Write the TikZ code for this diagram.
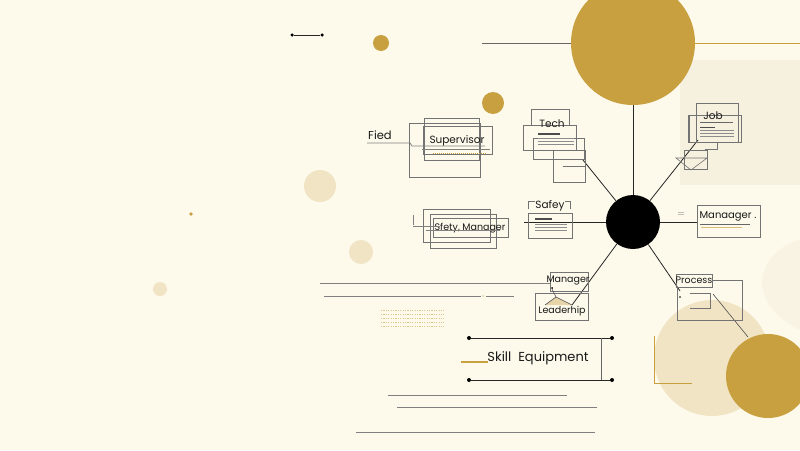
\documentclass[tikz,border=0pt]{standalone}
\usepackage{fontspec}
\setmainfont{Poppins}
\begin{document}
\begin{tikzpicture}[x=1pt,y=-1pt,
  thinbox/.style={draw=black!55,line width=0.6pt},
  lbl/.style={font=\fontsize{10.5}{11}\selectfont,inner sep=0pt,text=black!90},
  gline/.style={draw=black!50,line width=0.8pt},
  spoke/.style={draw=black!85,line width=0.8pt},
  dotline/.style={draw=black!85,line width=0.8pt},
  pt/.style={circle,fill=black,inner sep=0pt,minimum size=4pt}]
\definecolor{bgc}{HTML}{FDFAEB}
\definecolor{goldc}{HTML}{C9A040}
\definecolor{beige}{HTML}{F0E4C4}
\definecolor{pale}{HTML}{F6F0DE}
\useasboundingbox (0,0) rectangle (800,450);
\fill[bgc] (0,0) rectangle (800,450);
% pale panels
\fill[pale] (680,60) rectangle (800,185);
\fill[pale!70!bgc] (800,240) .. controls (760,250) and (740,300) .. (800,330) -- cycle;
\fill[beige] (712,358) circle (58);
\draw[goldc,line width=0.6pt] (654,336) -- (654,383) -- (692,383);
% decorative circles
\fill[goldc] (633,43) circle (62);
\fill[goldc] (381,43) circle (8);
\fill[goldc] (493,103) circle (11);
\fill[goldc] (768,376) circle (42);
\fill[beige] (320,186) circle (16);
\fill[beige] (361,252) circle (12);
\fill[beige] (160,289) circle (7);
\fill[goldc] (191,214) circle (1.8);
% top lines
\node[pt,minimum size=3.5pt] (tl1) at (292,35) {};
\node[pt,minimum size=3.5pt] (tl2) at (322,35) {};
\draw[dotline] (tl1) -- (tl2);
\coordinate (c1) at (482,43);
\coordinate (c2) at (571,43);
\draw[draw=black!60,line width=0.7pt] (c1) -- (c2);
\coordinate (c3) at (695,43);
\coordinate (c4) at (800,43);
\draw[goldc,line width=0.7pt] (c3) -- (c4);
% hub
\node[circle,fill=black,minimum size=54pt,inner sep=0pt] (hub) at (633,222) {};
\coordinate (bigc) at (633,105);
\coordinate (techend) at (583,160);
\coordinate (jobend) at (698,140);
\coordinate (safend) at (524,222);
\coordinate (manend) at (697,222);
\coordinate (leadend) at (572,305);
\coordinate (procend) at (680,291);
\draw[spoke] (hub) -- (bigc);
\draw[spoke] (hub) -- (techend);
\draw[spoke] (hub) -- (jobend);
\draw[spoke] (hub) -- (safend);
\draw[spoke] (hub) -- (manend);
\draw[spoke] (hub) -- (leadend);
\draw[spoke] (hub) -- (procend);
\coordinate (p1) at (713,294);
\coordinate (p2) at (748,337);
\draw[draw=black!70,line width=0.6pt] (p1) -- (p2);
% Fied / Supervisor
\node[lbl,font=\fontsize{11.5}{12}\selectfont] (fied) at (380,135) {Fied};
\draw[thinbox] (409,123) rectangle (480,177);
\draw[thinbox] (424,118) rectangle (479,160);
\draw[thinbox] (423,126) rectangle (492,154);
\node[lbl] (sup) at (457,141) {Supervisor};
\draw[gline] (367,143) -- (410,143) -- (412,146) -- (485,146);
\draw[gline] (422,149) -- (490,149);
\draw[goldc,line width=0.7pt,dash pattern=on 1pt off 1pt] (433,153) -- (486,153);
% Tech
\draw[thinbox] (531,109) rectangle (569,125);
\draw[thinbox] (523,125) rectangle (576,150);
\draw[thinbox] (533,138) rectangle (584,159);
\draw[thinbox] (553,150) rectangle (585,182);
\draw[thinbox] (563,166) -- (585,166);
\node[lbl] (tech) at (552,124) {Tech};
\draw[black!70,line width=1.2pt] (538,134) -- (560,134);
\foreach \yy in {138,141,144} \draw[black!45,line width=0.5pt] (538,\yy) -- (574,\yy);
% Job
\draw[thinbox] (696,103) rectangle (738,142);
\draw[thinbox] (688,115) rectangle (741,142);
\node[lbl] (job) at (713,116) {Job};
\draw[black!60,line width=0.7pt] (700,122) -- (733,122);
\draw[black!70,line width=0.8pt] (700,127) -- (715,127);
\foreach \yy in {130,133,136} \draw[black!45,line width=0.5pt] (700,\yy) -- (734,\yy);
\draw[thinbox] (690,142) -- (717,142) -- (717,149) -- (705,149);
\draw[thinbox] (684,150) rectangle (707,169);
\draw[thinbox] (676,158) -- (707,158) -- (691,170) -- cycle;
\draw[thinbox] (689,116) -- (689,142);
% Safety, Manager
\draw[thinbox] (423,209) rectangle (490,242);
\draw[thinbox] (430,214) rectangle (496,248);
\draw[thinbox] (433,218) rectangle (508,237);
\node[lbl,font=\fontsize{9.5}{10}\selectfont] (sm) at (470,228) {Sfety, Manager};
\draw[gline] (413,215) -- (413,225);
\draw[gline] (413,226) -- (440,226);
\draw[gline] (426,230) -- (500,230);
% Safey
\node[lbl] (saf) at (550,206) {Safey};
\draw[thinbox] (528,209) -- (528,201) -- (535,201);
\draw[thinbox] (565,201) -- (570,201) -- (570,209);
\draw[thinbox] (528,213) rectangle (572,238);
\draw[black!70,line width=1.1pt] (535,219) -- (552,219);
\foreach \yy in {224,227,230} \draw[black!45,line width=0.5pt] (535,\yy) -- (567,\yy);
% Manaager right
\node[lbl] (dots) at (681,214) {\tiny ::::::};
\draw[thinbox] (697,205) rectangle (760,237);
\node[lbl,font=\fontsize{10}{10.5}\selectfont] (mgr) at (728,216) {Manaager .};
\draw[black!60,line width=0.7pt] (700,224) -- (750,224);
\draw[goldc!70,line width=0.8pt] (701,227) -- (742,227);
% Manager / Leadership
\coordinate (ml1) at (320,283);
\coordinate (ml2) at (551,283);
\draw[gline] (ml1) -- (ml2);
\draw[gline] (324,296) -- (481,296);
\draw[gline] (486,296) -- (514,296);
\fill[goldc!50] (483,296) circle (1);
\draw[thinbox] (550,272) rectangle (588,291);
\node[lbl,font=\fontsize{9.5}{10}\selectfont] (mg2) at (568,280) {Manager};
\draw[thinbox] (535,293) rectangle (588,320);
\fill[goldc!45] (545,305) -- (556,297) -- (572,305) -- cycle;
\draw[black!70,line width=0.6pt] (552,289) -- (556,297) -- (572,305);
\draw[black!70,line width=0.6pt] (556,297) -- (545,305);
\fill[black] (552,288) circle (1);
\node[lbl,font=\fontsize{9.5}{10}\selectfont] (lead) at (562,311) {Leaderhip};
% dotted grid
\foreach \yy in {310,314,318,322,326}
  \draw[goldc!60,line width=0.8pt,dash pattern=on 1.2pt off 1.2pt] (381,\yy) -- (444,\yy);
% Process
\draw[thinbox] (676,274) rectangle (712,287);
\node[lbl,font=\fontsize{9.5}{10}\selectfont] (proc) at (694,280) {Process};
\draw[thinbox] (712,280) -- (742,280) -- (742,320) -- (677,320) -- (677,287);
\draw[thinbox] (690,293) -- (710,293) -- (710,308) -- (690,308);
\fill[black] (680,297) circle (0.8);
% Skill Equipment
\node[pt] (s1) at (469,338) {};
\node[pt] (s2) at (612,338) {};
\node[pt] (s3) at (469,380) {};
\node[pt] (s4) at (612,380) {};
\draw[dotline] (s1) -- (s2);
\draw[dotline] (s3) -- (s4);
\draw[black!60,line width=0.6pt] (601,338) -- (601,380);
\draw[goldc,line width=2.6pt] (461,362) -- (488,362);
\node[lbl,font=\fontsize{13}{14}\selectfont] (skill) at (538,358) {Skill\ \ Equipment};
% bottom lines
\draw[gline] (388,395) -- (567,395);
\draw[gline] (397,407) -- (597,407);
\draw[gline] (356,432) -- (595,432);
\end{tikzpicture}
\end{document}
